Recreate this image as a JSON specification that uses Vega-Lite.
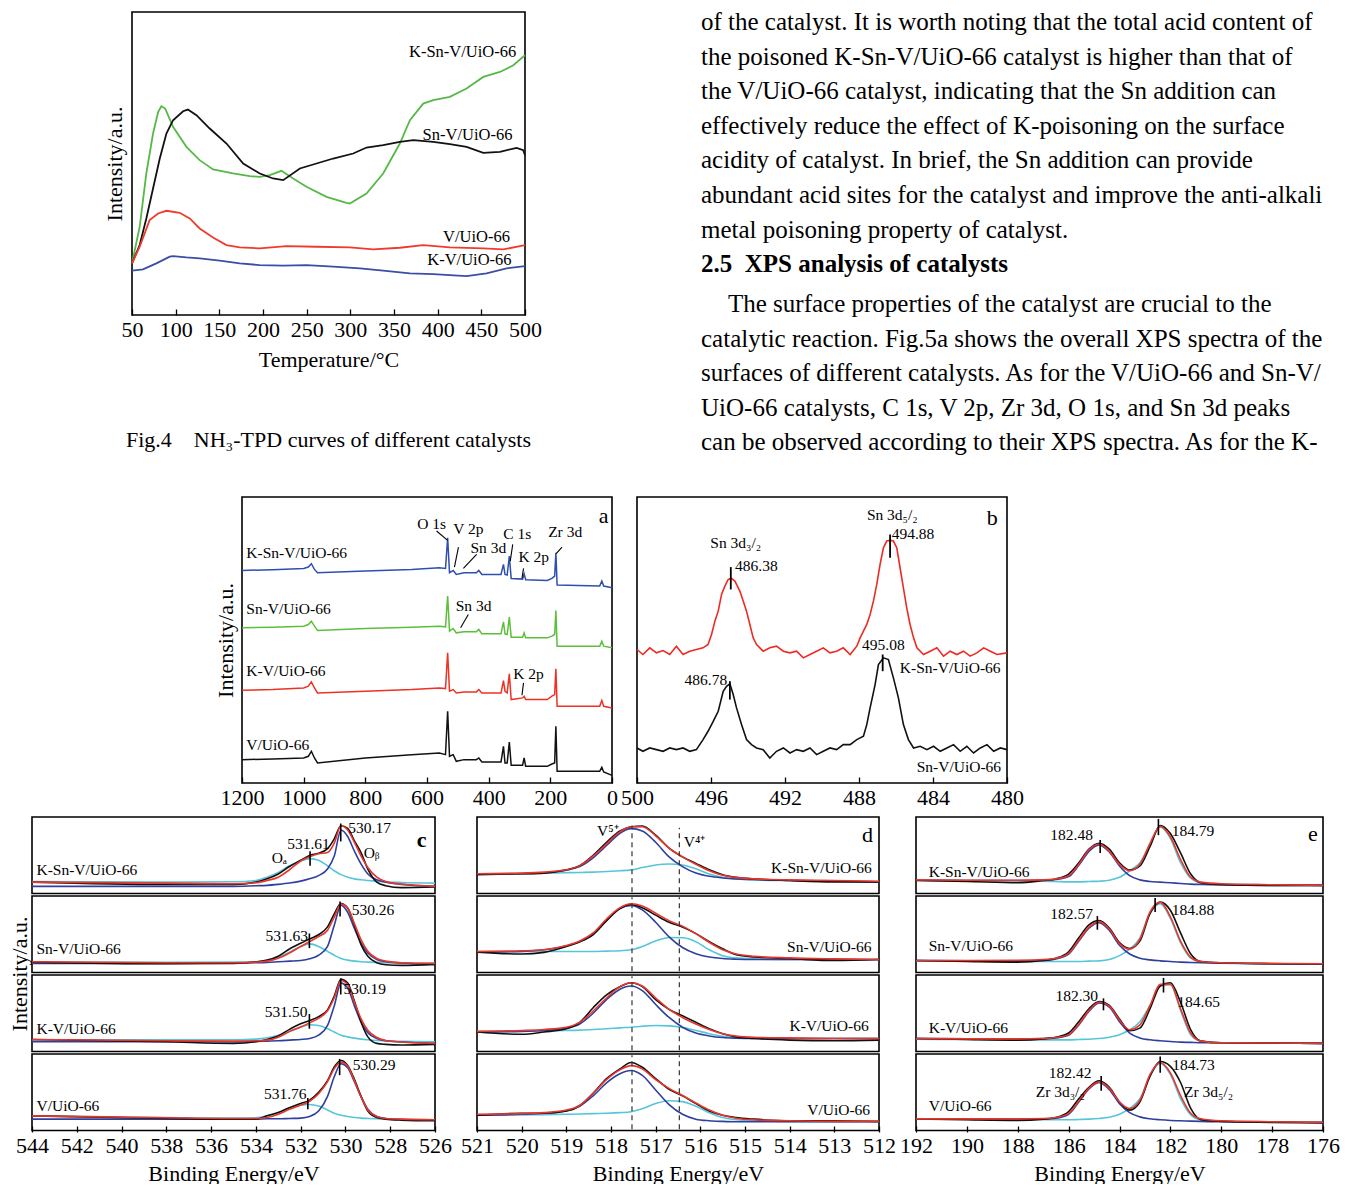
{
"$schema": "https://vega.github.io/schema/vega-lite/v6.json",
"padding": {"left": 8, "top": 9, "right": 0, "bottom": 0},
"background": "white",
"config": {
  "font": "Liberation Serif",
  "view": {"stroke": "#000", "strokeWidth": 1.6},
  "axis": {"domain": false, "grid": false, "labelFont": "Liberation Serif", "labelFontSize": 22, "labelColor": "#000", "titleFont": "Liberation Serif", "titleFontSize": 22, "titleFontWeight": "normal", "titleColor": "#000", "tickColor": "#000", "tickWidth": 1.3, "labelFlush": false, "labelOverlap": false, "labelPadding": 10, "titlePadding": 7},
  "text": {"font": "Liberation Serif", "fontSize": 15.5, "color": "#000", "baseline": "middle"},
  "header": {"titleFont": "Liberation Serif", "titleFontSize": 22, "titleFontWeight": "normal", "titleColor": "#000"},
  "title": {"font": "Liberation Serif", "fontWeight": "normal", "color": "#000"}
},
"datasets": {
  "f4": [
    {"s":"KSnV","T":50,"I":155},{"s":"KSnV","T":58.8,"I":265},{"s":"KSnV","T":66.4,"I":425},{"s":"KSnV","T":74.1,"I":545},{"s":"KSnV","T":80,"I":610},{"s":"KSnV","T":83.6,"I":627},{"s":"KSnV","T":88,"I":620},{"s":"KSnV","T":97,"I":565},{"s":"KSnV","T":112.3,"I":505},{"s":"KSnV","T":127.5,"I":465},{"s":"KSnV","T":142.8,"I":437},{"s":"KSnV","T":165.7,"I":425},{"s":"KSnV","T":184.8,"I":417},{"s":"KSnV","T":196.3,"I":415},{"s":"KSnV","T":207.8,"I":420},{"s":"KSnV","T":221.1,"I":433},{"s":"KSnV","T":234.5,"I":410},{"s":"KSnV","T":249.8,"I":385},{"s":"KSnV","T":272.7,"I":355},{"s":"KSnV","T":295.6,"I":337},{"s":"KSnV","T":299.4,"I":335},{"s":"KSnV","T":318.5,"I":365},{"s":"KSnV","T":337.6,"I":425},{"s":"KSnV","T":356.7,"I":515},{"s":"KSnV","T":368.2,"I":585},{"s":"KSnV","T":383.5,"I":635},{"s":"KSnV","T":394.9,"I":645},{"s":"KSnV","T":414,"I":655},{"s":"KSnV","T":433.1,"I":680},{"s":"KSnV","T":452.2,"I":715},{"s":"KSnV","T":471.3,"I":730},{"s":"KSnV","T":486.6,"I":750},{"s":"KSnV","T":500,"I":780},
    {"s":"SnV","T":50,"I":155},{"s":"SnV","T":58.8,"I":210},{"s":"SnV","T":66.4,"I":290},{"s":"SnV","T":74.1,"I":380},{"s":"SnV","T":81.8,"I":470},{"s":"SnV","T":89.4,"I":545},{"s":"SnV","T":97,"I":585},{"s":"SnV","T":108.5,"I":612},{"s":"SnV","T":114,"I":617},{"s":"SnV","T":123.8,"I":600},{"s":"SnV","T":139,"I":560},{"s":"SnV","T":158.2,"I":515},{"s":"SnV","T":177.3,"I":455},{"s":"SnV","T":196.3,"I":425},{"s":"SnV","T":211.6,"I":410},{"s":"SnV","T":223.1,"I":405},{"s":"SnV","T":242.2,"I":440},{"s":"SnV","T":261.3,"I":455},{"s":"SnV","T":280.4,"I":470},{"s":"SnV","T":303.3,"I":485},{"s":"SnV","T":318.5,"I":503},{"s":"SnV","T":337.6,"I":510},{"s":"SnV","T":356.7,"I":520},{"s":"SnV","T":372,"I":525},{"s":"SnV","T":394.9,"I":520},{"s":"SnV","T":414,"I":513},{"s":"SnV","T":433.1,"I":505},{"s":"SnV","T":452.2,"I":487},{"s":"SnV","T":471.3,"I":490},{"s":"SnV","T":490.4,"I":502},{"s":"SnV","T":498,"I":495},{"s":"SnV","T":500,"I":480},
    {"s":"V","T":50,"I":155},{"s":"V","T":58.8,"I":205},{"s":"V","T":70.2,"I":285},{"s":"V","T":79.8,"I":305},{"s":"V","T":89.4,"I":313},{"s":"V","T":104.6,"I":307},{"s":"V","T":116.1,"I":290},{"s":"V","T":127.5,"I":260},{"s":"V","T":142.8,"I":233},{"s":"V","T":158.1,"I":210},{"s":"V","T":173.4,"I":203},{"s":"V","T":196.3,"I":200},{"s":"V","T":226.9,"I":207},{"s":"V","T":261.3,"I":205},{"s":"V","T":299.4,"I":203},{"s":"V","T":326.2,"I":197},{"s":"V","T":356.7,"I":202},{"s":"V","T":383.5,"I":210},{"s":"V","T":414,"I":203},{"s":"V","T":452.2,"I":200},{"s":"V","T":475.2,"I":197},{"s":"V","T":500,"I":210},
    {"s":"KV","T":50,"I":133},{"s":"KV","T":62.6,"I":137},{"s":"KV","T":77.9,"I":155},{"s":"KV","T":93.2,"I":175},{"s":"KV","T":97,"I":177},{"s":"KV","T":112.3,"I":173},{"s":"KV","T":127.5,"I":170},{"s":"KV","T":150.5,"I":163},{"s":"KV","T":173.4,"I":155},{"s":"KV","T":196.3,"I":150},{"s":"KV","T":223.1,"I":148},{"s":"KV","T":249.8,"I":150},{"s":"KV","T":280.4,"I":145},{"s":"KV","T":311,"I":140},{"s":"KV","T":337.6,"I":133},{"s":"KV","T":368.2,"I":125},{"s":"KV","T":394.9,"I":123},{"s":"KV","T":414,"I":120},{"s":"KV","T":433.1,"I":117},{"s":"KV","T":456,"I":125},{"s":"KV","T":478.9,"I":140},{"s":"KV","T":500,"I":147}
  ],
  "f4t": [
    {"T":490,"I":790,"t":"K-Sn-V/UiO-66"},{"T":485.6,"I":540,"t":"Sn-V/UiO-66"},{"T":482.7,"I":235,"t":"V/UiO-66"},{"T":484.6,"I":165,"t":"K-V/UiO-66"}
  ],
  "txt": [
    {"ln":1,"f":"n","t":"of the catalyst. It is worth noting that the total acid content of"},
    {"ln":2,"f":"n","t":"the poisoned K-Sn-V/UiO-66 catalyst is higher than that of"},
    {"ln":3,"f":"n","t":"the V/UiO-66 catalyst, indicating that the Sn addition can"},
    {"ln":4,"f":"n","t":"effectively reduce the effect of K-poisoning on the surface"},
    {"ln":5,"f":"n","t":"acidity of catalyst. In brief, the Sn addition can provide"},
    {"ln":6,"f":"n","t":"abundant acid sites for the catalyst and improve the anti-alkali"},
    {"ln":7,"f":"n","t":"metal poisoning property of catalyst."},
    {"ln":8,"f":"h","t":"2.5\u00a0 XPS analysis of catalysts"},
    {"ln":9.15,"f":"i","t":"The surface properties of the catalyst are crucial to the"},
    {"ln":10.15,"f":"n","t":"catalytic reaction. Fig.5a shows the overall XPS spectra of the"},
    {"ln":11.15,"f":"n","t":"surfaces of different catalysts. As for the V/UiO-66 and Sn-V/"},
    {"ln":12.15,"f":"n","t":"UiO-66 catalysts, C 1s, V 2p, Zr 3d, O 1s, and Sn 3d peaks"},
    {"ln":13.15,"f":"n","t":"can be observed according to their XPS spectra. As for the K-"}
  ],
  "a": [
    {"x":1200,"KSnV":637,"SnV":465,"KV":278,"V":70},{"x":1100,"KSnV":639,"SnV":467,"KV":280,"V":72},{"x":1000,"KSnV":643,"SnV":470,"KV":285,"V":75},{"x":985,"KSnV":647,"SnV":475,"KV":290,"V":80},{"x":975,"KSnV":657,"SnV":485,"KV":303,"V":95},{"x":965,"KSnV":640,"SnV":470,"KV":285,"V":75},{"x":955,"KSnV":630,"SnV":457,"KV":270,"V":60},
    {"x":800,"KSnV":635,"SnV":463,"KV":275,"V":75},{"x":650,"KSnV":640,"SnV":467,"KV":280,"V":85},{"x":560,"KSnV":645,"SnV":470,"KV":285,"V":90},{"x":540,"KSnV":643,"SnV":468,"KV":283,"V":85},{"x":533,"KSnV":735,"SnV":560,"KV":390,"V":215},{"x":527,"KSnV":630,"SnV":455,"KV":275,"V":80},
    {"x":515,"KSnV":637,"SnV":463,"KV":280,"V":85},{"x":505,"KSnV":625,"SnV":450,"KV":270,"V":65},{"x":480,"KSnV":630,"SnV":453,"KV":273,"V":70},{"x":440,"KSnV":630,"SnV":453,"KV":273,"V":70},{"x":432,"KSnV":637,"SnV":460,"KV":280,"V":75},{"x":422,"KSnV":625,"SnV":447,"KV":270,"V":63},
    {"x":360,"KSnV":625,"SnV":447,"KV":270,"V":63},{"x":352,"KSnV":655,"SnV":483,"KV":307,"V":110},{"x":347,"KSnV":625,"SnV":447,"KV":275,"V":60},{"x":340,"KSnV":623,"SnV":445,"KV":270,"V":60},{"x":333,"KSnV":680,"SnV":497,"KV":327,"V":123},{"x":327,"KSnV":613,"SnV":437,"KV":250,"V":53},
    {"x":290,"KSnV":611,"SnV":437,"KV":255,"V":53},{"x":285,"KSnV":627,"SnV":450,"KV":260,"V":75},{"x":280,"KSnV":609,"SnV":435,"KV":250,"V":50},
    {"x":210,"KSnV":607,"SnV":435,"KV":250,"V":50},{"x":195,"KSnV":613,"SnV":440,"KV":260,"V":57},{"x":186,"KSnV":620,"SnV":445,"KV":265,"V":60},{"x":182,"KSnV":690,"SnV":517,"KV":342,"V":170},{"x":178,"KSnV":593,"SnV":410,"KV":230,"V":35},
    {"x":40,"KSnV":590,"SnV":410,"KV":230,"V":35},{"x":33,"KSnV":605,"SnV":425,"KV":247,"V":47},{"x":27,"KSnV":590,"SnV":410,"KV":230,"V":33},{"x":0,"KSnV":585,"SnV":405,"KV":225,"V":23}
  ],
  "at": [
    {"x":1186,"ty":690,"t":"K-Sn-V/UiO-66","a":"l"},{"x":1186,"ty":520,"t":"Sn-V/UiO-66","a":"l"},{"x":1186,"ty":335,"t":"K-V/UiO-66","a":"l"},{"x":1186,"ty":113,"t":"V/UiO-66","a":"l"},
    {"x":585,"ty":777,"t":"O 1s","a":"c"},{"x":466,"ty":760,"t":"V 2p","a":"c"},{"x":401,"ty":703,"t":"Sn 3d","a":"c"},{"x":307,"ty":747,"t":"C 1s","a":"c"},{"x":254,"ty":678,"t":"K 2p","a":"c"},{"x":152,"ty":753,"t":"Zr 3d","a":"c"},{"x":449,"ty":530,"t":"Sn 3d","a":"c"},{"x":271,"ty":327,"t":"K 2p","a":"c"},
    {"x":27,"ty":800,"t":"a","a":"L"}
  ],
  "aa": [
    {"x":569,"y":755,"x2":533,"y2":727},{"x":498,"y":707,"x2":511,"y2":647},{"x":439,"y":685,"x2":482,"y2":643},{"x":322,"y":715,"x2":330,"y2":665},{"x":287,"y":643,"x2":292,"y2":613},{"x":162,"y":707,"x2":181,"y2":687},{"x":466,"y":505,"x2":491,"y2":465},{"x":287,"y":300,"x2":292,"y2":263}
  ],
  "b": [
    {"s":"K","x":500,"y":400},{"s":"K","x":499.68,"y":385},{"s":"K","x":499.31,"y":405},{"s":"K","x":498.95,"y":390},{"s":"K","x":498.59,"y":397},{"s":"K","x":498.23,"y":385},{"s":"K","x":497.87,"y":410},{"s":"K","x":497.51,"y":385},{"s":"K","x":497.15,"y":395},{"s":"K","x":496.79,"y":400},{"s":"K","x":496.43,"y":405},{"s":"K","x":496.16,"y":415},{"s":"K","x":495.97,"y":445},{"s":"K","x":495.79,"y":485},{"s":"K","x":495.61,"y":515},{"s":"K","x":495.43,"y":565},{"s":"K","x":495.25,"y":590},{"s":"K","x":495.07,"y":610},{"s":"K","x":494.89,"y":613},{"s":"K","x":494.71,"y":605},{"s":"K","x":494.44,"y":575},{"s":"K","x":494.26,"y":545},{"s":"K","x":494.08,"y":515},{"s":"K","x":493.9,"y":475},{"s":"K","x":493.72,"y":435},{"s":"K","x":493.54,"y":415},{"s":"K","x":493.36,"y":405},{"s":"K","x":493.18,"y":395},{"s":"K","x":492.82,"y":405},{"s":"K","x":492.46,"y":410},{"s":"K","x":492.09,"y":395},{"s":"K","x":491.73,"y":390},{"s":"K","x":491.37,"y":395},{"s":"K","x":491.01,"y":375},{"s":"K","x":490.65,"y":385},{"s":"K","x":490.29,"y":395},{"s":"K","x":489.93,"y":405},{"s":"K","x":489.57,"y":390},{"s":"K","x":489.21,"y":395},{"s":"K","x":488.85,"y":405},{"s":"K","x":488.48,"y":385},{"s":"K","x":488.12,"y":410},{"s":"K","x":487.94,"y":435},{"s":"K","x":487.76,"y":455},{"s":"K","x":487.58,"y":475},{"s":"K","x":487.4,"y":505},{"s":"K","x":487.22,"y":545},{"s":"K","x":487.04,"y":595},{"s":"K","x":486.86,"y":655},{"s":"K","x":486.68,"y":705},{"s":"K","x":486.5,"y":725},{"s":"K","x":486.32,"y":727},{"s":"K","x":486.14,"y":725},{"s":"K","x":485.96,"y":705},{"s":"K","x":485.78,"y":645},{"s":"K","x":485.6,"y":585},{"s":"K","x":485.42,"y":525},{"s":"K","x":485.24,"y":475},{"s":"K","x":485.05,"y":435},{"s":"K","x":484.87,"y":405},{"s":"K","x":484.51,"y":385},{"s":"K","x":484.15,"y":395},{"s":"K","x":483.79,"y":405},{"s":"K","x":483.43,"y":380},{"s":"K","x":483.07,"y":395},{"s":"K","x":482.71,"y":385},{"s":"K","x":482.35,"y":395},{"s":"K","x":481.99,"y":380},{"s":"K","x":481.63,"y":390},{"s":"K","x":481.26,"y":405},{"s":"K","x":480.9,"y":395},{"s":"K","x":480.54,"y":385},{"s":"K","x":480,"y":390},
    {"s":"S","x":500,"y":105},{"s":"S","x":499.68,"y":95},{"s":"S","x":499.31,"y":105},{"s":"S","x":498.95,"y":100},{"s":"S","x":498.59,"y":95},{"s":"S","x":498.23,"y":105},{"s":"S","x":497.87,"y":100},{"s":"S","x":497.51,"y":105},{"s":"S","x":497.15,"y":95},{"s":"S","x":496.79,"y":100},{"s":"S","x":496.61,"y":115},{"s":"S","x":496.43,"y":130},{"s":"S","x":496.16,"y":155},{"s":"S","x":495.88,"y":185},{"s":"S","x":495.61,"y":215},{"s":"S","x":495.34,"y":275},{"s":"S","x":495.16,"y":290},{"s":"S","x":494.98,"y":297},{"s":"S","x":494.8,"y":265},{"s":"S","x":494.62,"y":225},{"s":"S","x":494.35,"y":175},{"s":"S","x":494.08,"y":130},{"s":"S","x":493.81,"y":115},{"s":"S","x":493.54,"y":105},{"s":"S","x":493.18,"y":100},{"s":"S","x":492.82,"y":75},{"s":"S","x":492.46,"y":95},{"s":"S","x":492.09,"y":105},{"s":"S","x":491.73,"y":90},{"s":"S","x":491.37,"y":100},{"s":"S","x":491.01,"y":95},{"s":"S","x":490.65,"y":105},{"s":"S","x":490.29,"y":85},{"s":"S","x":489.93,"y":95},{"s":"S","x":489.57,"y":105},{"s":"S","x":489.21,"y":100},{"s":"S","x":488.85,"y":115},{"s":"S","x":488.48,"y":115},{"s":"S","x":488.12,"y":130},{"s":"S","x":487.76,"y":140},{"s":"S","x":487.58,"y":175},{"s":"S","x":487.4,"y":225},{"s":"S","x":487.13,"y":295},{"s":"S","x":486.95,"y":355},{"s":"S","x":486.68,"y":375},{"s":"S","x":486.41,"y":370},{"s":"S","x":486.14,"y":315},{"s":"S","x":485.87,"y":255},{"s":"S","x":485.6,"y":175},{"s":"S","x":485.33,"y":130},{"s":"S","x":485.05,"y":105},{"s":"S","x":484.69,"y":110},{"s":"S","x":484.33,"y":100},{"s":"S","x":483.97,"y":110},{"s":"S","x":483.61,"y":95},{"s":"S","x":483.25,"y":105},{"s":"S","x":482.89,"y":115},{"s":"S","x":482.53,"y":95},{"s":"S","x":482.17,"y":110},{"s":"S","x":481.81,"y":90},{"s":"S","x":481.44,"y":105},{"s":"S","x":481.08,"y":115},{"s":"S","x":480.72,"y":95},{"s":"S","x":480.36,"y":105},{"s":"S","x":480,"y":100}
  ],
  "bt": [
    {"x":486.2,"ty":803,"t":"Sn 3d\u2085/\u2082","a":"c"},{"x":486.23,"ty":745,"t":"494.88","a":"l"},{"x":494.66,"ty":720,"t":"Sn 3d\u2083/\u2082","a":"c"},{"x":494.7,"ty":650,"t":"486.38","a":"l"},{"x":486.68,"ty":413,"t":"495.08","a":"c"},{"x":496.28,"ty":308,"t":"486.78","a":"c"},{"x":483.07,"ty":345,"t":"K-Sn-V/UiO-66","a":"c"},{"x":482.6,"ty":47,"t":"Sn-V/UiO-66","a":"c"},{"x":480.8,"ty":795,"t":"b","a":"L"}
  ],
  "bm": [
    {"x":494.93,"y1":580,"y2":647},{"x":486.32,"y1":675,"y2":745},{"x":494.98,"y1":250,"y2":305},{"x":486.72,"y1":335,"y2":385}
  ],
  "c": [
    {"s":"KSnV","x":544,"raw":35,"fit":35,"b":22,"cy":37,"g":28},{"s":"KSnV","x":538,"raw":28,"fit":32,"b":22,"cy":35},{"s":"KSnV","x":535,"raw":28,"fit":30,"b":22,"cy":36},{"s":"KSnV","x":534,"raw":35,"fit":33,"b":24,"cy":40},{"s":"KSnV","x":533.5,"raw":45,"fit":40,"b":25,"cy":50},{"s":"KSnV","x":533,"raw":60,"fit":50,"b":28,"cy":65},{"s":"KSnV","x":532.5,"raw":83,"fit":73,"b":32,"cy":85},{"s":"KSnV","x":532,"raw":102,"fit":100,"b":38,"cy":100},{"s":"KSnV","x":531.6,"raw":117,"fit":113,"b":45,"cy":107},{"s":"KSnV","x":531.2,"raw":124,"fit":122,"b":55,"cy":102},{"s":"KSnV","x":530.8,"raw":138,"fit":126,"b":75,"cy":85},{"s":"KSnV","x":530.5,"raw":168,"fit":155,"b":115,"cy":70},{"s":"KSnV","x":530.2,"raw":208,"fit":208,"b":195,"cy":58},{"s":"KSnV","x":529.9,"raw":200,"fit":195,"b":175,"cy":50},{"s":"KSnV","x":529.6,"raw":162,"fit":157,"b":130,"cy":45},{"s":"KSnV","x":529.3,"raw":125,"fit":115,"b":90,"cy":42},{"s":"KSnV","x":529,"raw":75,"fit":80,"b":60,"cy":40},{"s":"KSnV","x":528.6,"raw":35,"fit":50,"b":42,"cy":38},{"s":"KSnV","x":528.2,"raw":24,"fit":37,"b":35,"cy":36},{"s":"KSnV","x":527.5,"raw":18,"fit":29,"b":28,"cy":34},{"s":"KSnV","x":526,"raw":20,"fit":22,"b":22,"cy":32,"g":20},
    {"s":"SnV","x":544,"raw":32,"fit":33,"b":28,"cy":32,"g":28},{"s":"SnV","x":538,"raw":27,"fit":30,"b":28,"cy":31},{"s":"SnV","x":535,"raw":28,"fit":30,"b":29,"cy":32},{"s":"SnV","x":534,"raw":33,"fit":32,"b":30,"cy":33},{"s":"SnV","x":533.5,"raw":38,"fit":35,"b":31,"cy":36},{"s":"SnV","x":533,"raw":50,"fit":44,"b":33,"cy":47},{"s":"SnV","x":532.5,"raw":72,"fit":60,"b":35,"cy":62},{"s":"SnV","x":532,"raw":90,"fit":80,"b":37,"cy":80},{"s":"SnV","x":531.6,"raw":103,"fit":95,"b":42,"cy":88},{"s":"SnV","x":531.2,"raw":116,"fit":110,"b":53,"cy":80},{"s":"SnV","x":530.8,"raw":140,"fit":130,"b":80,"cy":65},{"s":"SnV","x":530.5,"raw":180,"fit":170,"b":145,"cy":53},{"s":"SnV","x":530.2,"raw":212,"fit":210,"b":207,"cy":43},{"s":"SnV","x":529.9,"raw":198,"fit":198,"b":185,"cy":38},{"s":"SnV","x":529.6,"raw":145,"fit":150,"b":135,"cy":35},{"s":"SnV","x":529.3,"raw":85,"fit":100,"b":90,"cy":33},{"s":"SnV","x":529,"raw":50,"fit":65,"b":60,"cy":32},{"s":"SnV","x":528.6,"raw":30,"fit":43,"b":40,"cy":31},{"s":"SnV","x":528.2,"raw":24,"fit":35,"b":33,"cy":30},{"s":"SnV","x":527.5,"raw":22,"fit":30,"b":29,"cy":29},{"s":"SnV","x":526,"raw":25,"fit":28,"b":25,"cy":28,"g":22},
    {"s":"KV","x":544,"raw":37,"fit":37,"b":30,"cy":36,"g":32},{"s":"KV","x":538,"raw":30,"fit":33,"b":30,"cy":36},{"s":"KV","x":535,"raw":25,"fit":32,"b":30,"cy":36},{"s":"KV","x":534,"raw":30,"fit":33,"b":31,"cy":38},{"s":"KV","x":533.5,"raw":37,"fit":35,"b":32,"cy":42},{"s":"KV","x":533,"raw":48,"fit":44,"b":33,"cy":50},{"s":"KV","x":532.5,"raw":68,"fit":61,"b":35,"cy":62},{"s":"KV","x":532,"raw":85,"fit":75,"b":37,"cy":75},{"s":"KV","x":531.6,"raw":95,"fit":88,"b":40,"cy":82},{"s":"KV","x":531.2,"raw":107,"fit":102,"b":50,"cy":80},{"s":"KV","x":530.8,"raw":128,"fit":125,"b":80,"cy":70},{"s":"KV","x":530.5,"raw":170,"fit":165,"b":140,"cy":60},{"s":"KV","x":530.2,"raw":222,"fit":218,"b":210,"cy":50},{"s":"KV","x":529.9,"raw":210,"fit":205,"b":195,"cy":45},{"s":"KV","x":529.6,"raw":155,"fit":152,"b":140,"cy":41},{"s":"KV","x":529.3,"raw":90,"fit":100,"b":90,"cy":38},{"s":"KV","x":529,"raw":45,"fit":65,"b":58,"cy":36},{"s":"KV","x":528.6,"raw":25,"fit":43,"b":40,"cy":34},{"s":"KV","x":528.2,"raw":22,"fit":34,"b":33,"cy":33},{"s":"KV","x":527.5,"raw":20,"fit":29,"b":29,"cy":31},{"s":"KV","x":526,"raw":22,"fit":25,"b":25,"cy":30,"g":22},
    {"s":"V","x":544,"raw":45,"fit":45,"b":35,"cy":45,"g":37},{"s":"V","x":538,"raw":37,"fit":39,"b":35,"cy":40},{"s":"V","x":535,"raw":35,"fit":37,"b":35,"cy":38},{"s":"V","x":534,"raw":35,"fit":37,"b":35,"cy":39},{"s":"V","x":533.5,"raw":45,"fit":40,"b":36,"cy":45},{"s":"V","x":533,"raw":55,"fit":50,"b":36,"cy":55},{"s":"V","x":532.5,"raw":70,"fit":65,"b":37,"cy":70},{"s":"V","x":532,"raw":83,"fit":78,"b":38,"cy":78},{"s":"V","x":531.6,"raw":93,"fit":90,"b":43,"cy":80},{"s":"V","x":531.2,"raw":117,"fit":113,"b":60,"cy":75},{"s":"V","x":530.8,"raw":153,"fit":150,"b":105,"cy":63},{"s":"V","x":530.5,"raw":195,"fit":190,"b":165,"cy":53},{"s":"V","x":530.2,"raw":215,"fit":210,"b":205,"cy":47},{"s":"V","x":529.9,"raw":200,"fit":197,"b":193,"cy":43},{"s":"V","x":529.6,"raw":157,"fit":153,"b":150,"cy":40},{"s":"V","x":529.3,"raw":105,"fit":103,"b":103,"cy":38},{"s":"V","x":529,"raw":60,"fit":63,"b":65,"cy":37},{"s":"V","x":528.6,"raw":40,"fit":43,"b":43,"cy":36},{"s":"V","x":528.2,"raw":35,"fit":37,"b":37,"cy":35},{"s":"V","x":527.5,"raw":32,"fit":35,"b":34,"cy":34},{"s":"V","x":526,"raw":30,"fit":33,"b":33,"cy":33,"g":30},
    {"s":"KSnV","x":543.8,"ty":72,"t":"K-Sn-V/UiO-66","a":"l"},{"s":"KSnV","x":529.87,"ty":202,"t":"530.17","a":"l"},{"s":"KSnV","x":531.65,"ty":152,"t":"531.61","a":"c"},{"s":"KSnV","x":532.95,"ty":110,"t":"O\u2090","a":"c"},{"s":"KSnV","x":528.83,"ty":125,"t":"O\u1d66","a":"c"},{"s":"KSnV","x":526.6,"ty":165,"t":"c","a":"L"},
    {"s":"SnV","x":543.8,"ty":72,"t":"Sn-V/UiO-66","a":"l"},{"s":"SnV","x":529.72,"ty":192,"t":"530.26","a":"l"},{"s":"SnV","x":532.62,"ty":113,"t":"531.63","a":"c"},
    {"s":"KV","x":543.8,"ty":70,"t":"K-V/UiO-66","a":"l"},{"s":"KV","x":530.09,"ty":192,"t":"530.19","a":"l"},{"s":"KV","x":532.65,"ty":120,"t":"531.50","a":"c"},
    {"s":"V","x":543.8,"ty":75,"t":"V/UiO-66","a":"l"},{"s":"V","x":529.67,"ty":200,"t":"530.29","a":"l"},{"s":"V","x":532.69,"ty":112,"t":"531.76","a":"c"},
    {"s":"KSnV","x":530.21,"y1":160,"y2":215},{"s":"KSnV","x":531.58,"y1":85,"y2":130},{"s":"SnV","x":530.24,"y1":172,"y2":218},{"s":"SnV","x":531.61,"y1":75,"y2":120},{"s":"KV","x":530.21,"y1":175,"y2":225},{"s":"KV","x":531.61,"y1":70,"y2":115},{"s":"V","x":530.26,"y1":170,"y2":220},{"s":"V","x":531.68,"y1":65,"y2":100}
  ],
  "d": [
    {"s":"KSnV","x":521,"raw":58,"fit":61,"b":60,"cy":61,"g":60},{"s":"KSnV","x":520,"raw":61,"fit":63,"b":61,"cy":62},{"s":"KSnV","x":519.5,"raw":63,"fit":66,"b":64,"cy":63},{"s":"KSnV","x":519,"raw":73,"fit":73,"b":72,"cy":64},{"s":"KSnV","x":518.7,"raw":86,"fit":86,"b":83,"cy":65},{"s":"KSnV","x":518.4,"raw":118,"fit":115,"b":110,"cy":66},{"s":"KSnV","x":518.1,"raw":158,"fit":153,"b":148,"cy":68},{"s":"KSnV","x":517.8,"raw":193,"fit":190,"b":186,"cy":70},{"s":"KSnV","x":517.55,"raw":206,"fit":206,"b":200,"cy":73,"g":50},{"s":"KSnV","x":517.3,"raw":208,"fit":206,"b":193,"cy":80},{"s":"KSnV","x":517,"raw":180,"fit":178,"b":158,"cy":88},{"s":"KSnV","x":516.7,"raw":140,"fit":140,"b":113,"cy":91},{"s":"KSnV","x":516.4,"raw":113,"fit":113,"b":83,"cy":88},{"s":"KSnV","x":516.1,"raw":93,"fit":90,"b":63,"cy":76},{"s":"KSnV","x":515.8,"raw":73,"fit":70,"b":53,"cy":60},{"s":"KSnV","x":515.5,"raw":58,"fit":56,"b":48,"cy":50,"g":41},{"s":"KSnV","x":515.2,"raw":50,"fit":49,"b":45,"cy":45},{"s":"KSnV","x":514.8,"raw":45,"fit":45,"b":43,"cy":42},{"s":"KSnV","x":514,"raw":40,"fit":42,"b":40,"cy":40},{"s":"KSnV","x":513,"raw":36,"fit":40,"b":38,"cy":38},{"s":"KSnV","x":512,"raw":36,"fit":38,"b":36,"cy":36,"g":38},
    {"s":"SnV","x":521,"raw":63,"fit":65,"b":63,"cy":65,"g":65},{"s":"SnV","x":520,"raw":57,"fit":67,"b":65,"cy":65},{"s":"SnV","x":519.5,"raw":62,"fit":70,"b":70,"cy":65},{"s":"SnV","x":519,"raw":80,"fit":83,"b":82,"cy":65},{"s":"SnV","x":518.7,"raw":95,"fit":97,"b":95,"cy":65},{"s":"SnV","x":518.4,"raw":117,"fit":122,"b":117,"cy":65},{"s":"SnV","x":518.1,"raw":160,"fit":165,"b":160,"cy":66},{"s":"SnV","x":517.8,"raw":197,"fit":200,"b":197,"cy":67},{"s":"SnV","x":517.55,"raw":210,"fit":212,"b":207,"cy":70,"g":55},{"s":"SnV","x":517.3,"raw":200,"fit":205,"b":193,"cy":80},{"s":"SnV","x":517,"raw":177,"fit":183,"b":155,"cy":97},{"s":"SnV","x":516.7,"raw":155,"fit":160,"b":110,"cy":108},{"s":"SnV","x":516.4,"raw":140,"fit":143,"b":77,"cy":107},{"s":"SnV","x":516.1,"raw":120,"fit":120,"b":58,"cy":95},{"s":"SnV","x":515.8,"raw":95,"fit":93,"b":48,"cy":70},{"s":"SnV","x":515.5,"raw":73,"fit":70,"b":43,"cy":52,"g":43},{"s":"SnV","x":515.2,"raw":55,"fit":57,"b":41,"cy":45},{"s":"SnV","x":514.8,"raw":48,"fit":50,"b":40,"cy":42},{"s":"SnV","x":514,"raw":43,"fit":45,"b":40,"cy":40},{"s":"SnV","x":513,"raw":37,"fit":42,"b":40,"cy":40},{"s":"SnV","x":512,"raw":40,"fit":40,"b":40,"cy":40,"g":39},
    {"s":"KV","x":521,"raw":60,"fit":62,"b":60,"cy":62,"g":62},{"s":"KV","x":520,"raw":53,"fit":65,"b":62,"cy":63},{"s":"KV","x":519.5,"raw":60,"fit":68,"b":65,"cy":64},{"s":"KV","x":519,"raw":70,"fit":75,"b":72,"cy":65},{"s":"KV","x":518.7,"raw":90,"fit":90,"b":85,"cy":66},{"s":"KV","x":518.4,"raw":135,"fit":125,"b":118,"cy":68},{"s":"KV","x":518.1,"raw":175,"fit":165,"b":160,"cy":70},{"s":"KV","x":517.8,"raw":200,"fit":200,"b":192,"cy":73},{"s":"KV","x":517.55,"raw":212,"fit":212,"b":202,"cy":75,"g":50},{"s":"KV","x":517.3,"raw":200,"fit":202,"b":188,"cy":78},{"s":"KV","x":517,"raw":160,"fit":165,"b":145,"cy":80},{"s":"KV","x":516.7,"raw":130,"fit":130,"b":105,"cy":79},{"s":"KV","x":516.4,"raw":110,"fit":105,"b":75,"cy":74},{"s":"KV","x":516.1,"raw":90,"fit":85,"b":57,"cy":65},{"s":"KV","x":515.8,"raw":70,"fit":68,"b":48,"cy":55},{"s":"KV","x":515.5,"raw":55,"fit":55,"b":43,"cy":47,"g":42},{"s":"KV","x":515.2,"raw":45,"fit":48,"b":41,"cy":43},{"s":"KV","x":514.8,"raw":40,"fit":44,"b":40,"cy":41},{"s":"KV","x":514,"raw":35,"fit":42,"b":40,"cy":40},{"s":"KV","x":513,"raw":33,"fit":40,"b":40,"cy":40},{"s":"KV","x":512,"raw":35,"fit":40,"b":40,"cy":40,"g":40},
    {"s":"V","x":521,"raw":47,"fit":50,"b":47,"cy":47,"g":48},{"s":"V","x":520,"raw":53,"fit":52,"b":50,"cy":48},{"s":"V","x":519.5,"raw":53,"fit":55,"b":53,"cy":49},{"s":"V","x":519,"raw":60,"fit":63,"b":60,"cy":50},{"s":"V","x":518.7,"raw":77,"fit":77,"b":75,"cy":51},{"s":"V","x":518.4,"raw":115,"fit":115,"b":107,"cy":52},{"s":"V","x":518.1,"raw":160,"fit":157,"b":147,"cy":53},{"s":"V","x":517.8,"raw":190,"fit":187,"b":175,"cy":55},{"s":"V","x":517.55,"raw":210,"fit":200,"b":185,"cy":58,"g":37},{"s":"V","x":517.3,"raw":195,"fit":190,"b":170,"cy":67},{"s":"V","x":517,"raw":160,"fit":157,"b":125,"cy":83},{"s":"V","x":516.7,"raw":127,"fit":130,"b":80,"cy":92},{"s":"V","x":516.4,"raw":107,"fit":108,"b":50,"cy":89},{"s":"V","x":516.1,"raw":83,"fit":85,"b":35,"cy":75},{"s":"V","x":515.8,"raw":60,"fit":63,"b":30,"cy":55},{"s":"V","x":515.5,"raw":47,"fit":47,"b":28,"cy":40,"g":28},{"s":"V","x":515.2,"raw":40,"fit":38,"b":27,"cy":33},{"s":"V","x":514.8,"raw":35,"fit":33,"b":27,"cy":30},{"s":"V","x":514,"raw":30,"fit":30,"b":27,"cy":28},{"s":"V","x":513,"raw":30,"fit":28,"b":27,"cy":27},{"s":"V","x":512,"raw":28,"fit":28,"b":27,"cy":27,"g":27},
    {"s":"KSnV","x":518.07,"ty":193,"t":"V\u2075\u207a","a":"c"},{"s":"KSnV","x":516.13,"ty":158,"t":"V\u2074\u207a","a":"c"},{"s":"KSnV","x":512.26,"ty":180,"t":"d","a":"L"},
    {"s":"KSnV","x":512.16,"ty":78,"t":"K-Sn-V/UiO-66","a":"r"},{"s":"SnV","x":512.17,"ty":80,"t":"Sn-V/UiO-66","a":"r"},{"s":"KV","x":512.23,"ty":78,"t":"K-V/UiO-66","a":"r"},{"s":"V","x":512.2,"ty":62,"t":"V/UiO-66","a":"r"},
    {"s":"KSnV","x":517.53,"y1":4,"y2":210,"d":1},{"s":"KSnV","x":516.47,"y1":4,"y2":203,"d":1},{"s":"SnV","x":517.53,"y1":4,"y2":232,"d":1},{"s":"SnV","x":516.47,"y1":4,"y2":232,"d":1},{"s":"KV","x":517.53,"y1":4,"y2":232,"d":1},{"s":"KV","x":516.47,"y1":4,"y2":232,"d":1},{"s":"V","x":517.53,"y1":4,"y2":232,"d":1},{"s":"V","x":516.47,"y1":4,"y2":232,"d":1}
  ],
  "e": [
    {"s":"KSnV","x":192,"raw":40,"fit":42,"b":41,"cy":41,"g":37},{"s":"KSnV","x":190,"raw":37,"fit":41,"b":40,"cy":40},{"s":"KSnV","x":188,"raw":33,"fit":41,"b":40,"cy":39},{"s":"KSnV","x":187,"raw":40,"fit":42,"b":41,"cy":38},{"s":"KSnV","x":186.5,"raw":45,"fit":45,"b":43,"cy":37},{"s":"KSnV","x":186,"raw":60,"fit":55,"b":52,"cy":36},{"s":"KSnV","x":185.6,"raw":95,"fit":90,"b":87,"cy":36},{"s":"KSnV","x":185.2,"raw":137,"fit":135,"b":130,"cy":37},{"s":"KSnV","x":184.8,"raw":155,"fit":152,"b":150,"cy":38},{"s":"KSnV","x":184.4,"raw":137,"fit":130,"b":128,"cy":41},{"s":"KSnV","x":184,"raw":95,"fit":90,"b":85,"cy":50},{"s":"KSnV","x":183.6,"raw":72,"fit":70,"b":55,"cy":70},{"s":"KSnV","x":183.2,"raw":85,"fit":90,"b":42,"cy":95},{"s":"KSnV","x":182.8,"raw":145,"fit":155,"b":37,"cy":150},{"s":"KSnV","x":182.4,"raw":210,"fit":207,"b":35,"cy":205},{"s":"KSnV","x":182,"raw":185,"fit":175,"b":33,"cy":170},{"s":"KSnV","x":181.6,"raw":125,"fit":105,"b":31,"cy":95},{"s":"KSnV","x":181.2,"raw":60,"fit":50,"b":29,"cy":47},{"s":"KSnV","x":180.8,"raw":33,"fit":35,"b":28,"cy":33},{"s":"KSnV","x":180,"raw":27,"fit":30,"b":27,"cy":29},{"s":"KSnV","x":178,"raw":25,"fit":27,"b":25,"cy":27},{"s":"KSnV","x":176,"raw":25,"fit":25,"b":25,"cy":25,"g":25},
    {"s":"SnV","x":192,"raw":37,"fit":37,"b":37,"cy":36,"g":34},{"s":"SnV","x":190,"raw":34,"fit":37,"b":36,"cy":35},{"s":"SnV","x":188,"raw":32,"fit":38,"b":36,"cy":34},{"s":"SnV","x":187,"raw":37,"fit":40,"b":37,"cy":34},{"s":"SnV","x":186.5,"raw":44,"fit":44,"b":42,"cy":34},{"s":"SnV","x":186,"raw":64,"fit":59,"b":57,"cy":34},{"s":"SnV","x":185.6,"raw":107,"fit":100,"b":97,"cy":34},{"s":"SnV","x":185.2,"raw":147,"fit":140,"b":137,"cy":35},{"s":"SnV","x":184.8,"raw":160,"fit":157,"b":154,"cy":36},{"s":"SnV","x":184.4,"raw":137,"fit":134,"b":130,"cy":40},{"s":"SnV","x":184,"raw":92,"fit":89,"b":84,"cy":52},{"s":"SnV","x":183.6,"raw":74,"fit":72,"b":57,"cy":72},{"s":"SnV","x":183.2,"raw":97,"fit":102,"b":44,"cy":107},{"s":"SnV","x":182.8,"raw":182,"fit":187,"b":39,"cy":182},{"s":"SnV","x":182.4,"raw":217,"fit":217,"b":36,"cy":212},{"s":"SnV","x":182,"raw":192,"fit":172,"b":34,"cy":167},{"s":"SnV","x":181.6,"raw":122,"fit":97,"b":32,"cy":92},{"s":"SnV","x":181.2,"raw":57,"fit":47,"b":31,"cy":44},{"s":"SnV","x":180.8,"raw":34,"fit":34,"b":30,"cy":32},{"s":"SnV","x":180,"raw":30,"fit":30,"b":29,"cy":29},{"s":"SnV","x":178,"raw":27,"fit":28,"b":27,"cy":27},{"s":"SnV","x":176,"raw":26,"fit":27,"b":26,"cy":26,"g":26},
    {"s":"KV","x":192,"raw":40,"fit":40,"b":40,"cy":38,"g":37},{"s":"KV","x":190,"raw":37,"fit":39,"b":39,"cy":37},{"s":"KV","x":188,"raw":35,"fit":39,"b":39,"cy":36},{"s":"KV","x":187,"raw":39,"fit":40,"b":40,"cy":36},{"s":"KV","x":186.5,"raw":44,"fit":43,"b":42,"cy":36},{"s":"KV","x":186,"raw":57,"fit":52,"b":50,"cy":36},{"s":"KV","x":185.6,"raw":92,"fit":84,"b":82,"cy":37},{"s":"KV","x":185.2,"raw":132,"fit":127,"b":124,"cy":38},{"s":"KV","x":184.8,"raw":154,"fit":152,"b":150,"cy":40},{"s":"KV","x":184.4,"raw":142,"fit":140,"b":137,"cy":44},{"s":"KV","x":184,"raw":100,"fit":97,"b":92,"cy":52},{"s":"KV","x":183.6,"raw":64,"fit":67,"b":57,"cy":67},{"s":"KV","x":183.2,"raw":72,"fit":82,"b":42,"cy":92},{"s":"KV","x":182.8,"raw":132,"fit":142,"b":36,"cy":142},{"s":"KV","x":182.4,"raw":202,"fit":207,"b":33,"cy":202},{"s":"KV","x":182,"raw":212,"fit":207,"b":31,"cy":207},{"s":"KV","x":181.6,"raw":152,"fit":132,"b":29,"cy":127},{"s":"KV","x":181.2,"raw":67,"fit":57,"b":28,"cy":52},{"s":"KV","x":180.8,"raw":32,"fit":32,"b":27,"cy":32},{"s":"KV","x":180,"raw":27,"fit":27,"b":27,"cy":27},{"s":"KV","x":178,"raw":26,"fit":26,"b":26,"cy":26},{"s":"KV","x":176,"raw":25,"fit":25,"b":25,"cy":25,"g":25},
    {"s":"V","x":192,"raw":36,"fit":36,"b":36,"cy":35,"g":33},{"s":"V","x":190,"raw":33,"fit":36,"b":35,"cy":34},{"s":"V","x":188,"raw":31,"fit":36,"b":35,"cy":33},{"s":"V","x":187,"raw":35,"fit":37,"b":36,"cy":33},{"s":"V","x":186.5,"raw":40,"fit":40,"b":38,"cy":33},{"s":"V","x":186,"raw":58,"fit":53,"b":50,"cy":33},{"s":"V","x":185.6,"raw":98,"fit":90,"b":88,"cy":34},{"s":"V","x":185.2,"raw":133,"fit":130,"b":128,"cy":35},{"s":"V","x":184.8,"raw":153,"fit":150,"b":148,"cy":37},{"s":"V","x":184.4,"raw":133,"fit":130,"b":126,"cy":41},{"s":"V","x":184,"raw":88,"fit":88,"b":83,"cy":50},{"s":"V","x":183.6,"raw":63,"fit":68,"b":55,"cy":68},{"s":"V","x":183.2,"raw":88,"fit":93,"b":42,"cy":98},{"s":"V","x":182.8,"raw":168,"fit":173,"b":36,"cy":168},{"s":"V","x":182.4,"raw":213,"fit":210,"b":33,"cy":208},{"s":"V","x":182,"raw":198,"fit":178,"b":31,"cy":173},{"s":"V","x":181.6,"raw":148,"fit":108,"b":30,"cy":98},{"s":"V","x":181.2,"raw":68,"fit":53,"b":29,"cy":48},{"s":"V","x":180.8,"raw":33,"fit":36,"b":28,"cy":33},{"s":"V","x":180,"raw":28,"fit":30,"b":27,"cy":29},{"s":"V","x":178,"raw":25,"fit":27,"b":26,"cy":27},{"s":"V","x":176,"raw":23,"fit":25,"b":25,"cy":25,"g":25},
    {"s":"KSnV","x":185.88,"ty":180,"t":"182.48","a":"c"},{"s":"KSnV","x":181.11,"ty":193,"t":"184.79","a":"c"},{"s":"KSnV","x":176.4,"ty":183,"t":"e","a":"L"},{"s":"KSnV","x":191.5,"ty":67,"t":"K-Sn-V/UiO-66","a":"l"},
    {"s":"SnV","x":185.88,"ty":182,"t":"182.57","a":"c"},{"s":"SnV","x":181.11,"ty":194,"t":"184.88","a":"c"},{"s":"SnV","x":191.5,"ty":82,"t":"Sn-V/UiO-66","a":"l"},
    {"s":"KV","x":185.68,"ty":172,"t":"182.30","a":"c"},{"s":"KV","x":180.89,"ty":154,"t":"184.65","a":"c"},{"s":"KV","x":191.5,"ty":74,"t":"K-V/UiO-66","a":"l"},
    {"s":"V","x":185.94,"ty":178,"t":"182.42","a":"c"},{"s":"V","x":186.33,"ty":120,"t":"Zr 3d\u2083/\u2082","a":"c"},{"s":"V","x":181.09,"ty":203,"t":"184.73","a":"c"},{"s":"V","x":180.5,"ty":120,"t":"Zr 3d\u2085/\u2082","a":"c"},{"s":"V","x":191.5,"ty":75,"t":"V/UiO-66","a":"l"},
    {"s":"KSnV","x":184.76,"y1":125,"y2":165},{"s":"KSnV","x":182.47,"y1":180,"y2":230},{"s":"SnV","x":184.87,"y1":132,"y2":174},{"s":"SnV","x":182.6,"y1":187,"y2":230},{"s":"KV","x":184.63,"y1":127,"y2":164},{"s":"KV","x":182.27,"y1":182,"y2":227},{"s":"V","x":184.72,"y1":123,"y2":168},{"s":"V","x":182.4,"y1":178,"y2":228}
  ]
},
"spacing": 40,
"resolve": {"scale": {"color": "independent"}},
"vconcat": [
  {"spacing": 0, "resolve": {"scale": {"color": "independent"}}, "hconcat": [
    {"width": 70, "height": 5, "data": {"values": []}, "mark": "point", "view": {"stroke": null}},
    {"spacing": 158, "resolve": {"scale": {"color": "independent"}}, "hconcat": [
      {"width": 393, "height": 303,
       "title": {"text": "Fig.4\u2003NH\u2083-TPD curves of different catalysts", "orient": "bottom", "fontSize": 22, "offset": 60},
       "layer": [
        {"data": {"name": "f4"}, "mark": {"type": "line", "strokeWidth": 1.8},
         "encoding": {
          "x": {"field": "T", "type": "quantitative", "scale": {"domain": [50, 500], "nice": false},
                "axis": {"title": "Temperature/°C", "titlePadding": 9, "values": [50,75,100,125,150,175,200,225,250,275,300,325,350,375,400,425,450,475,500], "labelExpr": "datum.value % 50 === 0 ? datum.label : ''", "tickSize": {"condition": {"test": "datum.value % 50 === 0", "value": -6}, "value": -4}}},
          "y": {"field": "I", "type": "quantitative", "scale": {"domain": [0, 910], "nice": false}, "axis": {"title": "Intensity/a.u.", "labels": false, "ticks": false, "titlePadding": 6}},
          "color": {"field": "s", "type": "nominal", "scale": {"domain": ["KV","V","SnV","KSnV"], "range": ["#3a4ea6","#ef3b2c","#111111","#56b947"]}, "legend": null}}},
        {"data": {"name": "f4t"}, "mark": {"type": "text", "align": "right", "fontSize": 16.5},
         "encoding": {"x": {"field": "T", "type": "quantitative", "scale": {"domain": [50, 500], "nice": false}}, "y": {"field": "I", "type": "quantitative", "scale": {"domain": [0, 910], "nice": false}}, "text": {"field": "t"}}}
       ]},
      {"width": 650, "height": 440, "view": {"stroke": null}, "data": {"name": "txt"},
       "layer": [
        {"transform": [{"filter": "datum.f === 'n'"}], "mark": {"type": "text", "align": "left", "fontSize": 25},
         "encoding": {"x": {"value": 0}, "y": {"field": "ln", "type": "quantitative", "scale": {"domain": [0.711, 13.428], "reverse": true, "nice": false, "zero": false}, "axis": null}, "text": {"field": "t"}}},
        {"transform": [{"filter": "datum.f === 'h'"}], "mark": {"type": "text", "align": "left", "fontSize": 25, "fontWeight": "bold"},
         "encoding": {"x": {"value": 0}, "y": {"field": "ln", "type": "quantitative", "scale": {"domain": [0.711, 13.428], "reverse": true, "nice": false, "zero": false}, "axis": null}, "text": {"field": "t"}}},
        {"transform": [{"filter": "datum.f === 'i'"}], "mark": {"type": "text", "align": "left", "fontSize": 25, "dx": 27},
         "encoding": {"x": {"value": 0}, "y": {"field": "ln", "type": "quantitative", "scale": {"domain": [0.711, 13.428], "reverse": true, "nice": false, "zero": false}, "axis": null}, "text": {"field": "t"}}}
       ]}
    ]}
  ]},
  {"spacing": 7, "resolve": {"scale": {"color": "independent"}}, "vconcat": [
    {"spacing": 0, "resolve": {"scale": {"color": "independent"}}, "hconcat": [
      {"width": 181, "height": 5, "data": {"values": []}, "mark": "point", "view": {"stroke": null}},
      {"width": 370, "height": 286,
       "layer": [
        {"data": {"name": "a"}, "transform": [{"fold": ["V","KV","SnV","KSnV"], "as": ["s","y"]}], "mark": {"type": "line", "strokeWidth": 1.5},
         "encoding": {
          "x": {"field": "x", "type": "quantitative", "scale": {"domain": [0, 1200], "reverse": true, "nice": false},
                "axis": {"title": null, "format": "d", "values": [0,100,200,300,400,500,600,700,800,900,1000,1100,1200], "labelExpr": "datum.value % 200 === 0 ? datum.label : ''", "tickSize": {"condition": {"test": "datum.value % 200 === 0", "value": -6}, "value": -5}}},
          "y": {"field": "y", "type": "quantitative", "scale": {"domain": [0, 857], "nice": false}, "axis": {"title": "Intensity/a.u.", "labels": false, "ticks": false, "titlePadding": 5}},
          "color": {"field": "s", "type": "nominal", "scale": {"domain": ["V","KV","SnV","KSnV"], "range": ["#111111","#ee3124","#5cbf3a","#2f4fb0"]}, "legend": null}}},
        {"data": {"name": "aa"}, "mark": {"type": "rule", "color": "#000", "strokeWidth": 1.1},
         "encoding": {"x": {"field": "x", "type": "quantitative", "scale": {"domain": [0, 1200], "reverse": true, "nice": false}}, "y": {"field": "y", "type": "quantitative", "scale": {"domain": [0, 857], "nice": false}}, "x2": {"field": "x2"}, "y2": {"field": "y2"}}},
        {"data": {"name": "at"}, "transform": [{"filter": "datum.a === 'l'"}], "mark": {"type": "text", "align": "left"},
         "encoding": {"x": {"field": "x", "type": "quantitative", "scale": {"domain": [0, 1200], "reverse": true, "nice": false}}, "y": {"field": "ty", "type": "quantitative", "scale": {"domain": [0, 857], "nice": false}}, "text": {"field": "t"}}},
        {"data": {"name": "at"}, "transform": [{"filter": "datum.a === 'c'"}], "mark": {"type": "text", "align": "center"},
         "encoding": {"x": {"field": "x", "type": "quantitative", "scale": {"domain": [0, 1200], "reverse": true, "nice": false}}, "y": {"field": "ty", "type": "quantitative", "scale": {"domain": [0, 857], "nice": false}}, "text": {"field": "t"}}},
        {"data": {"name": "at"}, "transform": [{"filter": "datum.a === 'L'"}], "mark": {"type": "text", "align": "center", "fontSize": 22},
         "encoding": {"x": {"field": "x", "type": "quantitative", "scale": {"domain": [0, 1200], "reverse": true, "nice": false}}, "y": {"field": "ty", "type": "quantitative", "scale": {"domain": [0, 857], "nice": false}}, "text": {"field": "t"}}}
       ]},
      {"width": 370, "height": 286,
       "layer": [
        {"data": {"name": "b"}, "mark": {"type": "line", "strokeWidth": 1.6},
         "encoding": {
          "x": {"field": "x", "type": "quantitative", "scale": {"domain": [480, 500], "reverse": true, "nice": false},
                "axis": {"title": null, "values": [480,482,484,486,488,490,492,494,496,498,500], "labelExpr": "datum.value % 4 === 0 ? datum.label : ''", "tickSize": {"condition": {"test": "datum.value % 4 === 0", "value": -6}, "value": -5}}},
          "y": {"field": "y", "type": "quantitative", "scale": {"domain": [0, 857], "nice": false}, "axis": null},
          "color": {"field": "s", "type": "nominal", "scale": {"domain": ["S","K"], "range": ["#111111","#ee2a22"]}, "legend": null}}},
        {"data": {"name": "bm"}, "mark": {"type": "rule", "color": "#000", "strokeWidth": 1.8},
         "encoding": {"x": {"field": "x", "type": "quantitative", "scale": {"domain": [480, 500], "reverse": true, "nice": false}}, "y": {"field": "y1", "type": "quantitative", "scale": {"domain": [0, 857], "nice": false}}, "y2": {"field": "y2"}}},
        {"data": {"name": "bt"}, "transform": [{"filter": "datum.a === 'l'"}], "mark": {"type": "text", "align": "left"},
         "encoding": {"x": {"field": "x", "type": "quantitative", "scale": {"domain": [480, 500], "reverse": true, "nice": false}}, "y": {"field": "ty", "type": "quantitative", "scale": {"domain": [0, 857], "nice": false}}, "text": {"field": "t"}}},
        {"data": {"name": "bt"}, "transform": [{"filter": "datum.a === 'c'"}], "mark": {"type": "text", "align": "center"},
         "encoding": {"x": {"field": "x", "type": "quantitative", "scale": {"domain": [480, 500], "reverse": true, "nice": false}}, "y": {"field": "ty", "type": "quantitative", "scale": {"domain": [0, 857], "nice": false}}, "text": {"field": "t"}}},
        {"data": {"name": "bt"}, "transform": [{"filter": "datum.a === 'L'"}], "mark": {"type": "text", "align": "center", "fontSize": 22},
         "encoding": {"x": {"field": "x", "type": "quantitative", "scale": {"domain": [480, 500], "reverse": true, "nice": false}}, "y": {"field": "ty", "type": "quantitative", "scale": {"domain": [0, 857], "nice": false}}, "text": {"field": "t"}}}
       ]}
    ]},
    {"spacing": 8, "resolve": {"scale": {"color": "independent"}}, "hconcat": [
      {"data": {"name": "c"},
       "facet": {"row": {"field": "s", "type": "nominal", "sort": ["KSnV","SnV","KV","V"], "title": "Intensity/a.u.", "header": {"labels": false, "titlePadding": -14}}},
       "spacing": {"row": 0},
       "spec": {"width": 403, "height": 76.5,
        "layer": [
         {"transform": [{"filter": "isValid(datum.raw)"}, {"fold": ["g","cy","b","raw","fit"], "as": ["c","y"]}], "mark": {"type": "line", "strokeWidth": 1.6, "interpolate": "monotone"},
          "encoding": {
           "x": {"field": "x", "type": "quantitative", "scale": {"domain": [526, 544], "reverse": true, "nice": false},
                 "axis": {"title": "Binding Energy/eV", "labelPadding": 9, "values": [526,527,528,529,530,531,532,533,534,535,536,537,538,539,540,541,542,543,544], "labelExpr": "datum.value % 2 === 0 ? datum.label : ''", "tickSize": {"condition": {"test": "datum.value % 2 === 0", "value": -6}, "value": -4}}},
           "y": {"field": "y", "type": "quantitative", "scale": {"domain": [0, 235], "nice": false}, "axis": null},
           "color": {"field": "c", "type": "nominal", "scale": {"domain": ["g","cy","b","raw","fit"], "range": ["#4caf3a","#55c6d9","#2e3f9e","#111111","#e8362b"]}, "legend": null}}},
         {"transform": [{"filter": "isValid(datum.y1)"}], "mark": {"type": "rule", "color": "#000", "strokeWidth": 1.6},
          "encoding": {"x": {"field": "x", "type": "quantitative", "scale": {"domain": [526, 544], "reverse": true, "nice": false}}, "y": {"field": "y1", "type": "quantitative", "scale": {"domain": [0, 235], "nice": false}}, "y2": {"field": "y2"}}},
         {"transform": [{"filter": "datum.a === 'l'"}], "mark": {"type": "text", "align": "left"},
          "encoding": {"x": {"field": "x", "type": "quantitative", "scale": {"domain": [526, 544], "reverse": true, "nice": false}}, "y": {"field": "ty", "type": "quantitative", "scale": {"domain": [0, 235], "nice": false}}, "text": {"field": "t"}}},
         {"transform": [{"filter": "datum.a === 'c'"}], "mark": {"type": "text", "align": "center"},
          "encoding": {"x": {"field": "x", "type": "quantitative", "scale": {"domain": [526, 544], "reverse": true, "nice": false}}, "y": {"field": "ty", "type": "quantitative", "scale": {"domain": [0, 235], "nice": false}}, "text": {"field": "t"}}},
         {"transform": [{"filter": "datum.a === 'L'"}], "mark": {"type": "text", "align": "center", "fontSize": 22, "fontWeight": "bold"},
          "encoding": {"x": {"field": "x", "type": "quantitative", "scale": {"domain": [526, 544], "reverse": true, "nice": false}}, "y": {"field": "ty", "type": "quantitative", "scale": {"domain": [0, 235], "nice": false}}, "text": {"field": "t"}}}
        ]}},
      {"spacing": 3, "resolve": {"scale": {"color": "independent"}}, "hconcat": [
        {"data": {"name": "d"},
         "facet": {"row": {"field": "s", "type": "nominal", "sort": ["KSnV","SnV","KV","V"], "header": null}},
         "spacing": {"row": 0},
         "spec": {"width": 402, "height": 76.5,
          "layer": [
           {"transform": [{"filter": "isValid(datum.raw)"}, {"fold": ["g","cy","b","raw","fit"], "as": ["c","y"]}], "mark": {"type": "line", "strokeWidth": 1.6, "interpolate": "monotone"},
            "encoding": {
             "x": {"field": "x", "type": "quantitative", "scale": {"domain": [512, 521], "reverse": true, "nice": false},
                   "axis": {"title": "Binding Energy/eV", "labelPadding": 9, "values": [512,512.5,513,513.5,514,514.5,515,515.5,516,516.5,517,517.5,518,518.5,519,519.5,520,520.5,521], "labelExpr": "datum.value % 1 === 0 ? datum.label : ''", "tickSize": {"condition": {"test": "datum.value % 1 === 0", "value": -6}, "value": -4}}},
             "y": {"field": "y", "type": "quantitative", "scale": {"domain": [0, 236], "nice": false}, "axis": null},
             "color": {"field": "c", "type": "nominal", "scale": {"domain": ["g","cy","b","raw","fit"], "range": ["#4caf3a","#55c6d9","#2e3f9e","#111111","#e8362b"]}, "legend": null}}},
           {"transform": [{"filter": "datum.d === 1"}], "mark": {"type": "rule", "color": "#333", "strokeWidth": 1.2, "strokeDash": [5, 4]},
            "encoding": {"x": {"field": "x", "type": "quantitative", "scale": {"domain": [512, 521], "reverse": true, "nice": false}}, "y": {"field": "y1", "type": "quantitative", "scale": {"domain": [0, 236], "nice": false}}, "y2": {"field": "y2"}}},
           {"transform": [{"filter": "datum.a === 'r'"}], "mark": {"type": "text", "align": "right"},
            "encoding": {"x": {"field": "x", "type": "quantitative", "scale": {"domain": [512, 521], "reverse": true, "nice": false}}, "y": {"field": "ty", "type": "quantitative", "scale": {"domain": [0, 236], "nice": false}}, "text": {"field": "t"}}},
           {"transform": [{"filter": "datum.a === 'c'"}], "mark": {"type": "text", "align": "center"},
            "encoding": {"x": {"field": "x", "type": "quantitative", "scale": {"domain": [512, 521], "reverse": true, "nice": false}}, "y": {"field": "ty", "type": "quantitative", "scale": {"domain": [0, 236], "nice": false}}, "text": {"field": "t"}}},
           {"transform": [{"filter": "datum.a === 'L'"}], "mark": {"type": "text", "align": "center", "fontSize": 22},
            "encoding": {"x": {"field": "x", "type": "quantitative", "scale": {"domain": [512, 521], "reverse": true, "nice": false}}, "y": {"field": "ty", "type": "quantitative", "scale": {"domain": [0, 236], "nice": false}}, "text": {"field": "t"}}}
          ]}},
        {"data": {"name": "e"},
         "facet": {"row": {"field": "s", "type": "nominal", "sort": ["KSnV","SnV","KV","V"], "header": null}},
         "spacing": {"row": 0},
         "spec": {"width": 407, "height": 76.5,
          "layer": [
           {"transform": [{"filter": "isValid(datum.raw)"}, {"fold": ["g","cy","b","raw","fit"], "as": ["c","y"]}], "mark": {"type": "line", "strokeWidth": 1.6, "interpolate": "monotone"},
            "encoding": {
             "x": {"field": "x", "type": "quantitative", "scale": {"domain": [176, 192], "reverse": true, "nice": false},
                   "axis": {"title": "Binding Energy/eV", "labelPadding": 9, "values": [176,177,178,179,180,181,182,183,184,185,186,187,188,189,190,191,192], "labelExpr": "datum.value % 2 === 0 ? datum.label : ''", "tickSize": {"condition": {"test": "datum.value % 2 === 0", "value": -6}, "value": -4}}},
             "y": {"field": "y", "type": "quantitative", "scale": {"domain": [0, 236], "nice": false}, "axis": null},
             "color": {"field": "c", "type": "nominal", "scale": {"domain": ["g","cy","b","raw","fit"], "range": ["#4caf3a","#55c6d9","#2e3f9e","#111111","#e8362b"]}, "legend": null}}},
           {"transform": [{"filter": "isValid(datum.y1)"}], "mark": {"type": "rule", "color": "#000", "strokeWidth": 1.6},
            "encoding": {"x": {"field": "x", "type": "quantitative", "scale": {"domain": [176, 192], "reverse": true, "nice": false}}, "y": {"field": "y1", "type": "quantitative", "scale": {"domain": [0, 236], "nice": false}}, "y2": {"field": "y2"}}},
           {"transform": [{"filter": "datum.a === 'l'"}], "mark": {"type": "text", "align": "left"},
            "encoding": {"x": {"field": "x", "type": "quantitative", "scale": {"domain": [176, 192], "reverse": true, "nice": false}}, "y": {"field": "ty", "type": "quantitative", "scale": {"domain": [0, 236], "nice": false}}, "text": {"field": "t"}}},
           {"transform": [{"filter": "datum.a === 'c'"}], "mark": {"type": "text", "align": "center"},
            "encoding": {"x": {"field": "x", "type": "quantitative", "scale": {"domain": [176, 192], "reverse": true, "nice": false}}, "y": {"field": "ty", "type": "quantitative", "scale": {"domain": [0, 236], "nice": false}}, "text": {"field": "t"}}},
           {"transform": [{"filter": "datum.a === 'L'"}], "mark": {"type": "text", "align": "center", "fontSize": 22},
            "encoding": {"x": {"field": "x", "type": "quantitative", "scale": {"domain": [176, 192], "reverse": true, "nice": false}}, "y": {"field": "ty", "type": "quantitative", "scale": {"domain": [0, 236], "nice": false}}, "text": {"field": "t"}}}
          ]}}
      ]}
    ]}
  ]}
]
}
